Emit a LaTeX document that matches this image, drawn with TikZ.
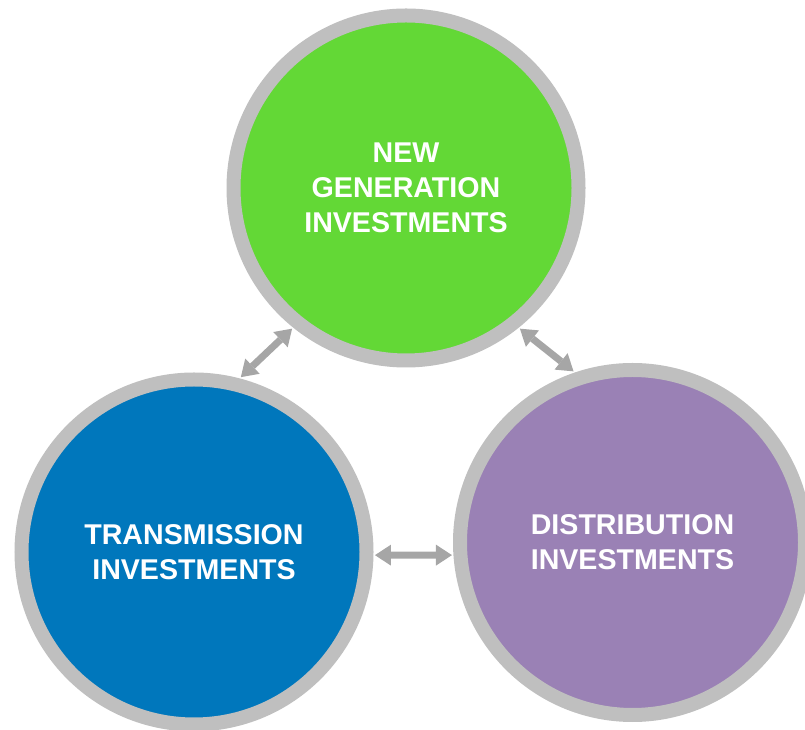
\documentclass[tikz,border=0pt]{standalone}
\usepackage{fontspec}
\setmainfont{Liberation Sans}
\usetikzlibrary{arrows.meta}
\definecolor{gengreen}{RGB}{99,216,54}
\definecolor{transblue}{RGB}{0,119,188}
\definecolor{distpurple}{RGB}{154,129,181}
\definecolor{ringgray}{RGB}{191,191,191}
\definecolor{arrowgray}{RGB}{166,166,166}
\tikzset{
 bubble/.style={circle,draw=ringgray,line width=14pt,minimum size=345pt,inner sep=0pt,outer sep=8.5pt,
  text=white,align=center,font=\fontsize{28.6}{35}\selectfont\bfseries},
 link/.style={{Triangle[length=16pt,width=21pt,line width=0pt]}-{Triangle[length=16pt,width=21pt,line width=0pt]},
  line width=7pt,arrowgray}
}
\begin{document}
\begin{tikzpicture}[x=1pt,y=1pt]
 \useasboundingbox (0,0) rectangle (805,730);
 \node[bubble,fill=gengreen] (gen) at (406,542) {NEW\\GENERATION\\INVESTMENTS};
 \node[bubble,fill=transblue] (trans) at (194,178) {TRANSMISSION\\INVESTMENTS};
 \node[bubble,fill=distpurple] (dist) at (632.5,187.5) {DISTRIBUTION\\INVESTMENTS};
 \draw[link] (gen.231.8) -- (trans.75);
 \draw[link] (gen.309.9) -- (dist.109.5);
 \draw[link] (trans.359) -- (dist.184);
\end{tikzpicture}
\end{document}
